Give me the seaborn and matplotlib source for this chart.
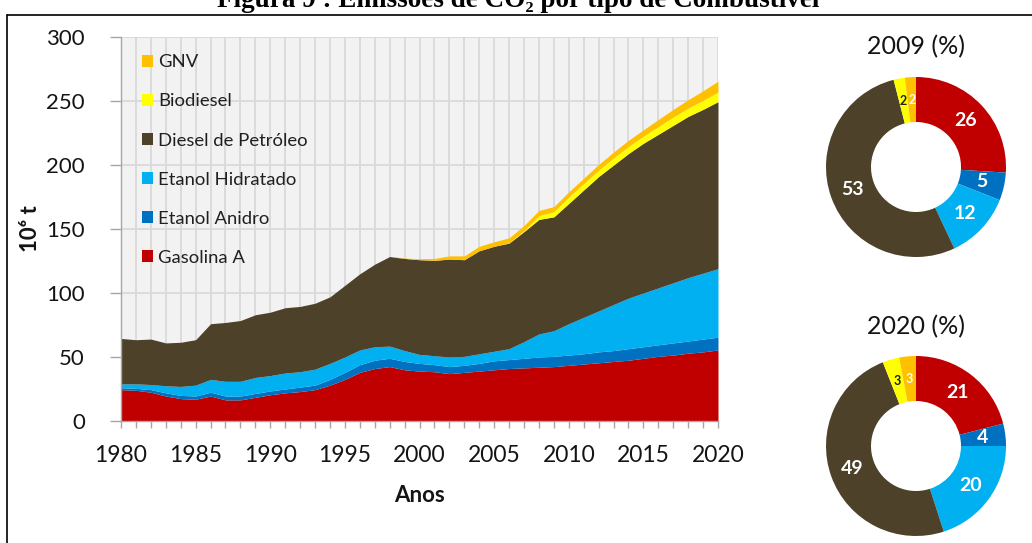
import matplotlib
matplotlib.use("Agg")
import matplotlib.pyplot as plt
from matplotlib.patches import Patch
from matplotlib.lines import Line2D
import seaborn as sns
import numpy as np

# ---------------- data ----------------
years = list(range(1980, 2021))
gasolina_a = [24.5, 24, 22.5, 19.5, 17.5, 17, 19.5, 16.5, 16.5, 18.5,
              20.5, 22, 23, 24.5, 28, 32.5, 38, 41, 42.5, 40,
              39, 38.5, 37, 38, 39, 40, 41, 41.5, 42, 42.5,
              43.5, 44.5, 45.5, 46.5, 47.5, 49, 50.5, 51.5, 53, 54, 55.5]
etanol_anidro = [1.5, 1.5, 2, 2.5, 2.5, 2.5, 3, 3, 3, 3,
                 3, 3, 3.5, 3.5, 4.5, 5.5, 6, 6.5, 6.5, 6.5,
                 6, 5.5, 5.5, 5.5, 6, 7, 7, 7.5, 8, 8,
                 8, 8, 8.5, 8.5, 9, 9, 9, 9.5, 9.5, 10, 10]
etanol_hidratado = [3, 3.5, 4, 5.5, 7, 8.5, 10, 11.5, 11.5, 12.5,
                    12, 12.5, 12, 12.5, 12.5, 12, 11.5, 10.5, 9.5, 8.5,
                    7, 7, 7.5, 7, 7.5, 7.5, 8.5, 13, 18, 20,
                    24.5, 28.5, 32, 36, 39.5, 42, 44.5, 47, 49.5, 51.5, 53.5]
diesel = [35.5, 34.5, 35.5, 33.5, 34.5, 35.5, 43.5, 46, 47.5, 49,
          49.5, 51, 51, 51.5, 52, 56, 59.5, 64.5, 70, 72,
          74, 74.5, 76.5, 75.5, 80.5, 82, 82.5, 86, 89.5, 89,
          94, 99.5, 105, 109, 113, 117, 120, 123, 126, 128, 130.5]
biodiesel = [0] * 26 + [0.3, 0.7, 3, 4, 5, 5, 5, 5.5, 5.5, 5.5, 6, 6.5, 6.5, 7, 7.5]
gnv = [0] * 19 + [0.3, 0.8, 1.5, 2.5, 3, 3.5, 3.5, 3.8, 4, 4, 4,
                  4, 4.2, 4.4, 4.6, 4.8, 5, 5.5, 6, 6.5, 7.5, 8.5]

series_names = ["Gasolina A", "Etanol Anidro", "Etanol Hidratado",
                "Diesel de Petróleo", "Biodiesel", "GNV"]
colors = ["#C00000", "#0070C0", "#00B0F0", "#4D412A", "#FFFF00", "#FFC000"]

pie_2009 = [26, 5, 12, 53, 2, 2]
pie_2020 = [21, 4, 20, 49, 3, 3]
pie_titles = ["2009 (%)", "2020 (%)"]

y_ticks = [0, 50, 100, 150, 200, 250, 300]
x_ticks = [1980, 1985, 1990, 1995, 2000, 2005, 2010, 2015, 2020]

# ---------------- style ----------------
sns.set_theme(style="whitegrid")
plt.rcParams["font.family"] = ["Lato", "DejaVu Sans"]
palette = sns.color_palette(colors)

W, H = 1032, 543
fig = plt.figure(figsize=(W / 100, H / 100), dpi=100)
fig.patch.set_facecolor("white")

def fx(px):
    return px / W

def fy(py):
    return 1 - py / H

TXT = "#141414"

# main axes
ax = fig.add_axes([fx(121), fy(421), fx(718) - fx(121), fy(37) - fy(421)])
ax.set_facecolor("#F2F2F2")
ax.stackplot(years, gasolina_a, etanol_anidro, etanol_hidratado, diesel,
             biodiesel, gnv, colors=palette, labels=series_names,
             linewidth=0, zorder=3)
ax.set_xlim(1980, 2020)
ax.set_ylim(0, 300)
ax.set_xticks(x_ticks)
ax.set_xticks(years, minor=True)
ax.set_yticks(y_ticks)
ax.grid(False)
ax.grid(True, axis="x", which="both", color="#D9D9D9", linewidth=1.3, zorder=0)
ax.grid(True, axis="y", which="major", color="#D9D9D9", linewidth=1.3, zorder=0)
ax.set_axisbelow(True)
for s in ["top", "right"]:
    ax.spines[s].set_visible(False)
for s in ["left", "bottom"]:
    ax.spines[s].set_color("#A6A6A6")
    ax.spines[s].set_linewidth(1.0)
    ax.spines[s].set_zorder(5)
ax.tick_params(axis="x", which="both", direction="out", length=5, width=1,
               color="#A6A6A6", labelsize=16.5, labelcolor=TXT, pad=12,
               bottom=True)
ax.tick_params(axis="y", which="major", direction="out", length=8, width=1,
               color="#A6A6A6", labelsize=16, labelcolor=TXT, pad=18,
               left=True)
ax.set_xlabel("Anos", fontsize=16, fontweight="bold", color=TXT, labelpad=14)
ax.set_ylabel("10⁶ t", fontsize=16, fontweight="bold", color=TXT,
              labelpad=4)

handles = [Patch(facecolor=c, edgecolor="none") for c in colors]
leg = ax.legend(handles[::-1], series_names[::-1], loc="upper left",
                bbox_to_anchor=(fx(135), fy(47)), bbox_transform=fig.transFigure,
                frameon=False, fontsize=13.3, handlelength=0.6, handleheight=0.6,
                handletextpad=0.25, labelspacing=1.25, borderaxespad=0)
for t in leg.get_texts():
    t.set_color("#202020")

# pies
def draw_pie(vals, title, cx, cy, r, ty):
    pax = fig.add_axes([fx(cx - r), fy(cy + r), fx(2 * r), fy(cy - r) - fy(cy + r)])
    wedges, _ = pax.pie(vals, colors=palette, startangle=90, counterclock=False,
                        wedgeprops=dict(width=0.5, linewidth=0))
    pax.set_xlim(-1, 1)
    pax.set_ylim(-1, 1)
    for w, v, c in zip(wedges, vals, colors):
        ang = np.deg2rad((w.theta1 + w.theta2) / 2)
        tc = "#1F1F1F" if c == "#FFFF00" else "white"
        fs = 9 if v <= 3 else 14
        pax.text(0.75 * np.cos(ang), 0.75 * np.sin(ang), str(v), ha="center",
                 va="center", color=tc, fontsize=fs, fontweight="bold")
    fig.text(fx(cx), fy(ty), title, ha="center", va="center", fontsize=18,
             color=TXT)

draw_pie(pie_2009, pie_titles[0], 916, 167, 90, 47)
draw_pie(pie_2020, pie_titles[1], 916, 446, 90, 327)

# clipped figure caption and frame
fig.text(fx(518), fy(7), "Figura 9 : Emissões de CO₂ por tipo de Combustível",
         ha="center", va="baseline", fontsize=19.5, fontweight="bold",
         family=["Liberation Serif", "DejaVu Serif"], color="black")
fig.add_artist(Line2D([fx(7), fx(7)], [fy(15), 0], color="black", linewidth=1.2))
fig.add_artist(Line2D([fx(7), 1], [fy(15), fy(15)], color="black", linewidth=1.2))

fig.savefig("out.png", dpi=100)
